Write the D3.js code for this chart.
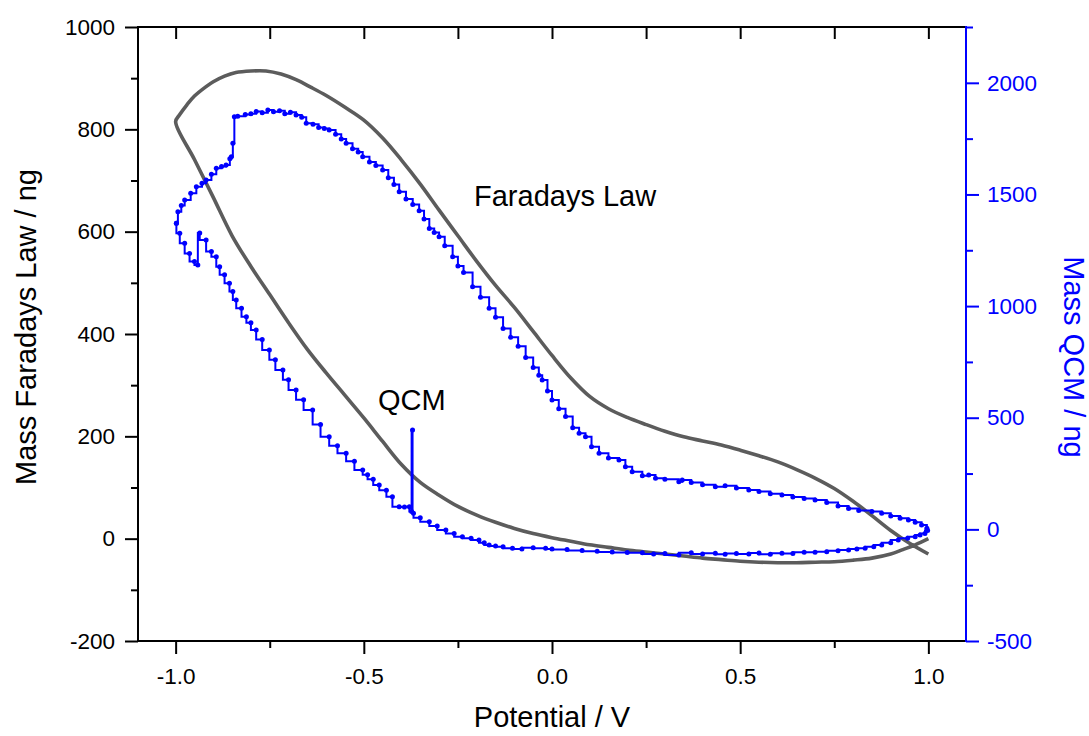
<!DOCTYPE html>
<html><head><meta charset="utf-8">
<script src="https://cdn.jsdelivr.net/npm/d3@7"></script>
<style>
html,body{margin:0;padding:0;background:#fff;}
svg text{font-family:"Liberation Sans",Arial,sans-serif;}
</style>
</head><body>
<svg id="chart" width="1089" height="736"></svg>
<script>
// ---- data ----
const xTicks = [-1.0, -0.5, 0.0, 0.5, 1.0];
const xTickLabels = ["-1.0", "-0.5", "0.0", "0.5", "1.0"];
const leftTicks = [-200, 0, 200, 400, 600, 800, 1000];
const leftTickLabels = ["-200", "0", "200", "400", "600", "800", "1000"];
const rightTicks = [-500, 0, 500, 1000, 1500, 2000];
const rightTickLabels = ["-500", "0", "500", "1000", "1500", "2000"];

// Faradays Law mass (left axis, ng) vs potential (V)
const faradayV = [1.0,0.965,0.93,0.9,0.85,0.8,0.75,0.7,0.65,0.6,0.55,0.5,0.45,0.4,0.35,0.3,0.25,0.2,0.15,0.1,0.05,0.0,-0.05,-0.1,-0.15,-0.2,-0.25,-0.3,-0.35,-0.4,-0.45,-0.5,-0.55,-0.6,-0.65,-0.7,-0.75,-0.8,-0.85,-0.9,-0.95,-1.0,
  -0.99,-0.97,-0.95,-0.92,-0.9,-0.87,-0.84,-0.8,-0.76,-0.72,-0.68,-0.64,-0.6,-0.55,-0.5,-0.45,-0.4,-0.35,-0.3,-0.25,-0.2,-0.15,-0.1,-0.05,0.0,0.05,0.1,0.15,0.2,0.25,0.3,0.35,0.4,0.45,0.5,0.55,0.6,0.65,0.7,0.75,0.8,0.85,0.9,0.95,1.0];
const faradayMass = [0,-12,-22,-30,-38,-42,-45,-46,-47,-47,-46,-44,-41,-38,-34,-30,-26,-22,-17,-12,-5,2,10,20,32,46,63,85,110,145,190,236,280,324,370,422,477,532,592,667,741,815,
  828,848,865,883,893,904,911,914,914,908,897,882,866,843,818,783,740,693,642,592,542,495,452,405,358,314,278,254,237,223,210,199,191,183,173,162,150,135,118,98,73,45,16,-9,-30];

// QCM mass (right axis, ng) vs potential (V)
const qcmV = [-0.998,-0.994,-0.985,-0.976,-0.960,-0.945,-0.930,-0.919,-0.905,-0.892,-0.878,-0.866,-0.856,-0.852,-0.848,-0.844,-0.835,-0.815,-0.800,-0.786,-0.770,-0.755,-0.740,-0.724,-0.710,-0.695,-0.680,-0.665,-0.653,-0.635,-0.620,-0.605,-0.592,-0.575,-0.560,-0.547,-0.530,-0.515,-0.503,-0.485,-0.468,-0.450,-0.435,-0.420,-0.406,-0.388,-0.370,-0.353,-0.340,-0.326,-0.313,-0.300,-0.285,-0.264,-0.250,-0.235,-0.211,-0.190,-0.167,-0.150,-0.130,-0.110,-0.090,-0.070,-0.050,-0.035,-0.026,-0.012,0.000,0.018,0.036,0.055,0.072,0.089,0.105,0.125,0.150,0.178,0.195,0.213,0.240,0.257,0.275,0.300,0.337,0.346,0.370,0.400,0.434,0.460,0.490,0.523,0.550,0.580,0.611,0.640,0.670,0.699,0.730,0.760,0.788,0.815,0.850,0.876,0.900,0.925,0.947,0.965,0.982,0.996,0.998,
  0.991,0.978,0.965,0.945,0.920,0.900,0.876,0.855,0.832,0.810,0.788,0.760,0.730,0.699,0.670,0.640,0.611,0.580,0.550,0.523,0.490,0.460,0.434,0.400,0.370,0.337,0.300,0.270,0.240,0.200,0.160,0.120,0.080,0.040,0.000,-0.017,-0.050,-0.080,-0.105,-0.130,-0.150,-0.167,-0.180,-0.194,-0.215,-0.238,-0.260,-0.282,-0.305,-0.326,-0.350,-0.368,-0.3705,-0.373,-0.379,-0.392,-0.406,-0.424,-0.440,-0.459,-0.475,-0.490,-0.503,-0.525,-0.547,-0.570,-0.592,-0.615,-0.636,-0.660,-0.680,-0.700,-0.715,-0.735,-0.751,-0.770,-0.786,-0.800,-0.812,-0.825,-0.839,-0.848,-0.857,-0.870,-0.883,-0.892,-0.905,-0.919,-0.936,-0.941,-0.950,-0.963,-0.976,-0.989,-0.998];
const qcmMass = [1371,1423,1450,1475,1505,1535,1550,1565,1590,1617,1625,1632,1660,1669,1729,1848,1850,1858,1862,1871,1866,1878,1870,1875,1862,1868,1856,1846,1819,1814,1800,1795,1789,1770,1748,1729,1705,1690,1669,1645,1630,1610,1575,1545,1512,1480,1455,1427,1390,1348,1330,1311,1270,1221,1180,1150,1087,1040,990,950,900,860,820,770,725,690,669,620,579,540,505,455,430,415,370,341,320,311,280,258,240,243,229,225,213,221,210,200,191,195,185,176,170,160,154,145,138,131,120,105,94,85,80,72,60,50,42,32,20,5,-5,
  -18,-25,-33,-40,-48,-60,-70,-78,-85,-88,-92,-96,-100,-103,-102,-108,-107,-112,-106,-110,-108,-112,-107,-110,-105,-115,-108,-110,-105,-104,-101,-98,-95,-90,-88,-85,-82,-88,-85,-78,-74,-70,-60,-48,-40,-33,-18,-3,15,34,52,72,445,80,101,100,101,146,175,199,225,245,266,305,341,375,415,470,535,580,624,670,714,760,803,850,893,925,952,990,1027,1065,1102,1140,1176,1221,1245,1296,1327,1184,1200,1236,1281,1326,1371];

// ---- layout ----
const svg = d3.select("#chart");
const L = 138, R = 966, T = 27, B = 641;
const x = d3.scaleLinear().domain([-1.1, 1.1]).range([L, R]);
const yL = d3.scaleLinear().domain([-200, 1000]).range([B, T]);
const yR = d3.scaleLinear().domain([-500, 2250]).range([B, T]);
const BLUE = "#0000ff";

// Faradays curve
const farData = faradayV.map((v, i) => [v, faradayMass[i]]);
svg.append("path").datum(farData)
  .attr("fill", "none").attr("stroke", "#5c5c5c").attr("stroke-width", 3.6)
  .attr("stroke-linejoin", "round")
  .attr("d", d3.line().x(d => x(d[0])).y(d => yL(d[1])).curve(d3.curveCatmullRom.alpha(0.5)));

// QCM curve
const qData = qcmV.map((v, i) => [v, qcmMass[i]]);
svg.append("path").datum(qData)
  .attr("fill", "none").attr("stroke", BLUE).attr("stroke-width", 2)
  .attr("d", d3.line().x(d => x(d[0])).y(d => yR(d[1])).curve(d3.curveStepAfter));
svg.append("g").selectAll("circle").data(qData).join("circle")
  .attr("cx", d => x(d[0])).attr("cy", d => yR(d[1])).attr("r", 2.5).attr("fill", BLUE);

// Axes
const fs = "22.5px";
const lab = (vals, labels) => d => labels[vals.indexOf(d)];
// bottom
const gB = svg.append("g").attr("transform", `translate(0,${B})`)
  .call(d3.axisBottom(x).tickValues(xTicks).tickSize(13).tickPadding(14).tickFormat(lab(xTicks, xTickLabels)));
gB.select(".domain").remove();
gB.selectAll("text").attr("font-size", fs).attr("fill", "#000");
gB.selectAll("line").attr("stroke", "#000").attr("stroke-width", 2);
const gBm = svg.append("g").attr("transform", `translate(0,${B})`)
  .call(d3.axisBottom(x).tickValues([-0.75, -0.25, 0.25, 0.75]).tickSize(7).tickFormat(""));
gBm.select(".domain").remove();
gBm.selectAll("line").attr("stroke", "#000").attr("stroke-width", 2);
// top (inward ticks)
const gT = svg.append("g").attr("transform", `translate(0,${T})`)
  .call(d3.axisTop(x).tickValues([-1, -0.75, -0.5, -0.25, 0, 0.25, 0.5, 0.75, 1]).tickSize(-12).tickFormat(""));
gT.select(".domain").remove();
gT.selectAll("line").attr("stroke", "#000").attr("stroke-width", 2);
// left
const gL = svg.append("g").attr("transform", `translate(${L},0)`)
  .call(d3.axisLeft(yL).tickValues(leftTicks).tickSize(13).tickPadding(10).tickFormat(lab(leftTicks, leftTickLabels)));
gL.select(".domain").remove();
gL.selectAll("text").attr("font-size", fs).attr("fill", "#000");
gL.selectAll("line").attr("stroke", "#000").attr("stroke-width", 2);
const gLm = svg.append("g").attr("transform", `translate(${L},0)`)
  .call(d3.axisLeft(yL).tickValues([-100, 100, 300, 500, 700, 900]).tickSize(7).tickFormat(""));
gLm.select(".domain").remove();
gLm.selectAll("line").attr("stroke", "#000").attr("stroke-width", 2);
// right
const gR = svg.append("g").attr("transform", `translate(${R},0)`)
  .call(d3.axisRight(yR).tickValues(rightTicks).tickSize(13).tickPadding(8).tickFormat(lab(rightTicks, rightTickLabels)));
gR.select(".domain").remove();
gR.selectAll("text").attr("font-size", fs).attr("fill", BLUE);
gR.selectAll("line").attr("stroke", BLUE).attr("stroke-width", 2);
const gRm = svg.append("g").attr("transform", `translate(${R},0)`)
  .call(d3.axisRight(yR).tickValues([-250, 250, 750, 1250, 1750, 2250]).tickSize(7).tickFormat(""));
gRm.select(".domain").remove();
gRm.selectAll("line").attr("stroke", BLUE).attr("stroke-width", 2);

// frame lines
svg.append("line").attr("x1", L - 1).attr("x2", R).attr("y1", T).attr("y2", T).attr("stroke", "#000").attr("stroke-width", 2);
svg.append("line").attr("x1", L - 1).attr("x2", R).attr("y1", B).attr("y2", B).attr("stroke", "#000").attr("stroke-width", 2);
svg.append("line").attr("x1", L).attr("x2", L).attr("y1", T).attr("y2", B + 1).attr("stroke", "#000").attr("stroke-width", 2);
svg.append("line").attr("x1", R).attr("x2", R).attr("y1", T - 1).attr("y2", B + 1).attr("stroke", BLUE).attr("stroke-width", 2);

// titles
const tfs = "29px";
svg.append("text").attr("x", 552).attr("y", 727).attr("text-anchor", "middle")
  .attr("font-size", tfs).attr("fill", "#000").text("Potential / V");
svg.append("text").attr("transform", "translate(36,327) rotate(-90)").attr("text-anchor", "middle")
  .attr("font-size", tfs).attr("fill", "#000").text("Mass Faradays Law / ng");
svg.append("text").attr("transform", "translate(1064,357) rotate(90)").attr("text-anchor", "middle")
  .attr("font-size", tfs).attr("fill", BLUE).text("Mass QCM / ng");
svg.append("text").attr("x", 474).attr("y", 206).attr("font-size", tfs).attr("fill", "#000").text("Faradays Law");
svg.append("text").attr("x", 378).attr("y", 410).attr("font-size", tfs).attr("fill", "#000").text("QCM");
</script>
</body></html>
